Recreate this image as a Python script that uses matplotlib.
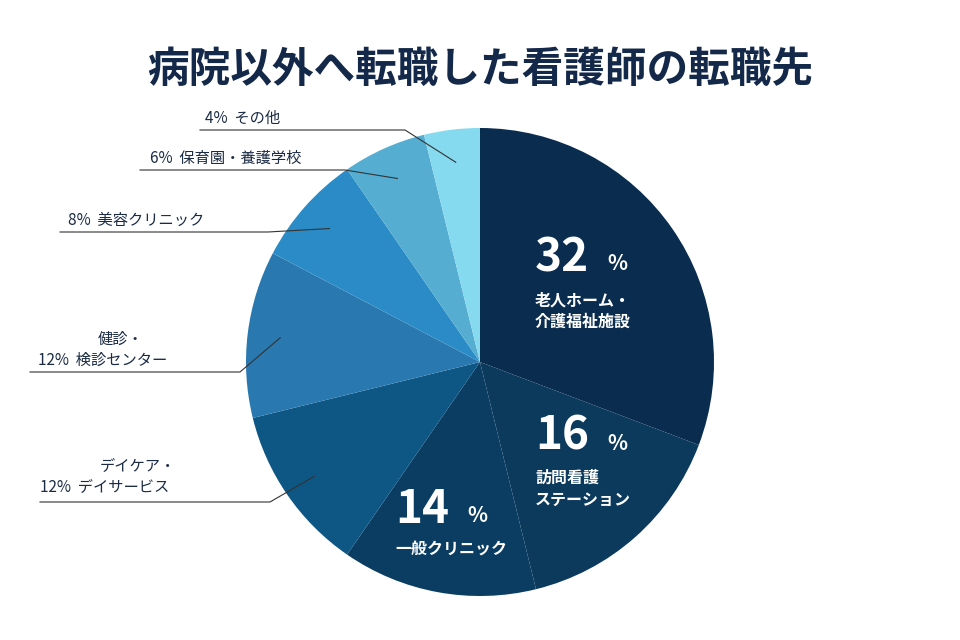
import matplotlib
matplotlib.use("Agg")
import matplotlib.pyplot as plt
import numpy as np

FONT = "Noto Sans CJK JP"
plt.rcParams["font.family"] = FONT

values = [32, 16, 14, 12, 12, 8, 6, 4]
colors = ["#0a2c4e", "#0c3a5d", "#0b3d62", "#0e5684", "#2a78b0", "#2b8bc6", "#55add2", "#86daef"]
pcts = ["32", "16", "14"]
inner_names = ["老人ホーム・\n介護福祉施設", "訪問看護\nステーション", "一般クリニック"]
outer_labels = ["デイケア・\n12%  デイサービス", "健診・\n12%  検診センター",
                "8%  美容クリニック", "6%  保育園・養護学校", "4%  その他"]

fig = plt.figure(figsize=(9.6, 6.4), dpi=100)
ax = fig.add_axes([0, 0, 1, 1])

cx, cy, R = 480, 362, 234
ax.pie(values, colors=colors, startangle=-90, counterclock=True, center=(cx, cy),
       radius=R, wedgeprops=dict(linewidth=0), frame=False)
ax.set_xlim(0, 960); ax.set_ylim(640, 0); ax.set_aspect("auto"); ax.axis("off")

fig.text(0.5, 1 - 70 / 640, "病院以外へ転職した看護師の転職先", ha="center", va="center",
         fontsize=30, fontweight="bold", color="#14284a")

# inner labels
inner_pos = [(535, 258, 300), (535, 437, 478), (395, 510, 550)]
for (x, y, y2), p, n in zip(inner_pos, pcts, inner_names):
    ax.text(x, y, p, fontsize=33, fontweight="bold", color="white", va="center", ha="left")
    ax.text(x + 72, y + 6, "%", fontsize=15, fontweight="bold", color="white", va="center", ha="left")
    ax.text(x, y2 if "\n" not in n else y2 + 11, n, fontsize=11.5, fontweight="bold", color="white",
            va="center", ha="left", linespacing=1.45)

# outer labels with leader lines
total = sum(values)
cum = np.cumsum(values) - np.array(values) / 2
text_pos = [(40, 477), (38, 350), (68, 220), (150, 158), (205, 118)]
line_y = [502, 372, 232, 170, 130]
line_x0 = [40, 30, 60, 140, 200]
line_x1 = [270, 240, 268, 345, 405]
for k, i in enumerate(range(3, 8)):
    th = np.deg2rad(-90 + 360 * cum[i] / total)
    ex, ey = cx + 0.86 * R * np.cos(th), cy + 0.86 * R * np.sin(th)
    ax.plot([line_x0[k], line_x1[k], ex], [line_y[k], line_y[k], ey], color="#333333", lw=0.8)
    lbl = outer_labels[k]
    tx, ty = text_pos[k]
    if "\n" in lbl:
        a, b = lbl.split("\n")
        ax.text(tx + 60, ty - 11, a, fontsize=11, color="#1b2b45", va="center")
        ax.text(tx, ty + 10, b, fontsize=11, color="#1b2b45", va="center")
    else:
        ax.text(tx, ty, lbl, fontsize=11, color="#1b2b45", va="center")

fig.savefig("out.png", dpi=100)
